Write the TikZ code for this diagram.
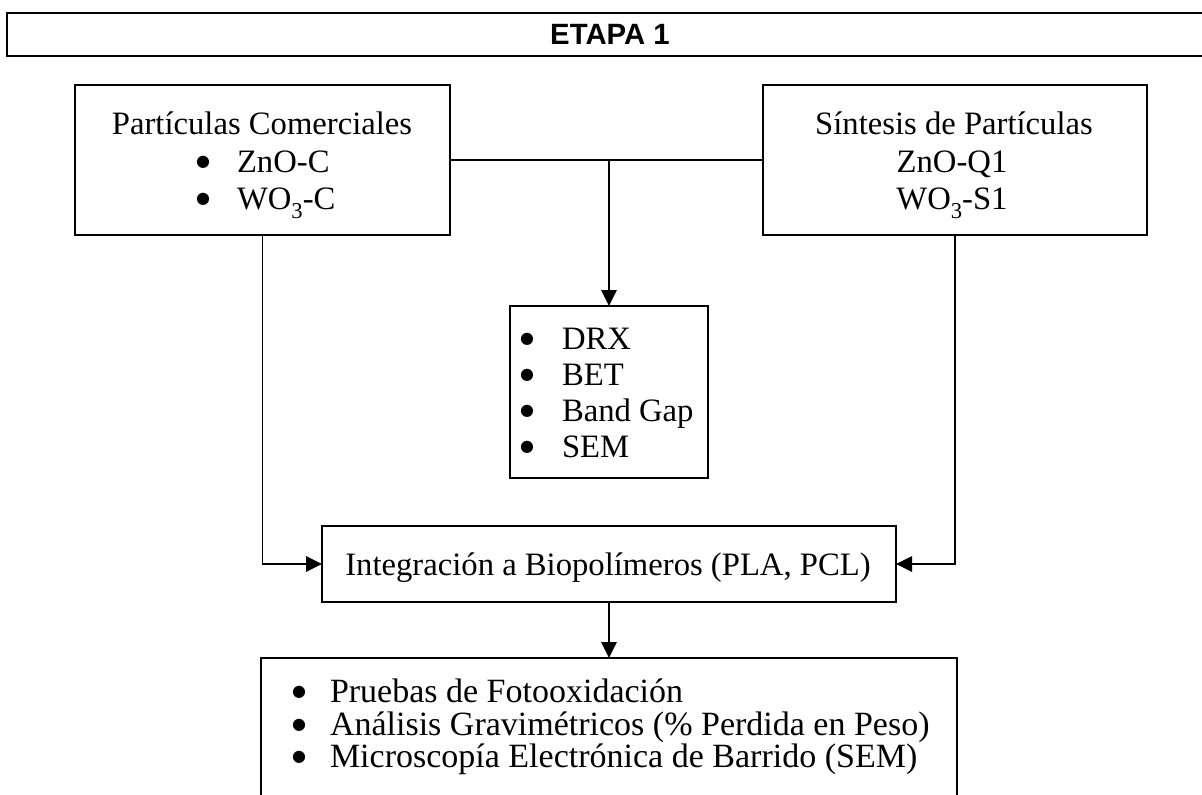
\documentclass[tikz,border=0pt]{standalone}
\usepackage{fontspec}
\setmainfont{Liberation Serif}
\newfontfamily\headfont{Liberation Sans}
\newfontfamily\symfont{DejaVu Sans}
\usetikzlibrary{arrows.meta}
\newcommand\mysub[1]{\raisebox{-0.28em}{\fontsize{17}{17}\selectfont #1}}
\newcommand\mybul{{\symfont\fontsize{12}{12}\selectfont ●}}
\begin{document}
\begin{tikzpicture}[x=0.75pt,y=-0.75pt,
  box/.style={draw,line width=2pt,inner sep=0pt,outer sep=0pt},
  conn/.style={line width=1.25pt},
  arr/.style={conn,-{Triangle[length=12pt,width=11.5pt]}},
  txt/.style={inner sep=0pt,outer sep=0pt,font=\fontsize{24.5}{29}\selectfont},
  btxt/.style={inner sep=0pt,outer sep=0pt,font=\fontsize{25.5}{29}\selectfont},
  bul/.style={inner sep=0pt,outer sep=0pt,yshift=3.9pt},
  head/.style={inner sep=0pt,outer sep=0pt,font=\headfont\bfseries\fontsize{22}{26}\selectfont}
]
\useasboundingbox (0,0) rectangle (1202,794);

% banner
\draw[line width=1.6pt] (1210,13) -- (7,13) -- (7,56) -- (1210,56);
\node[head] (etapa) at (610,34.5) {ETAPA 1};

% boxes
\node[box,minimum width=281.25pt,minimum height=112.5pt] (com) at (262.5,160) {};
\node[box,minimum width=288pt,minimum height=112.5pt] (sin) at (955,160) {};
\node[box,minimum width=148.5pt,minimum height=129pt] (car) at (609,392) {};
\node[box,minimum width=430.5pt,minimum height=57pt] (int) at (609,564) {};
\draw[line width=2pt] (261,805) -- (261,658) -- (957,658) -- (957,805);
\coordinate (res) at (609,658);

% texts: commercial
\node[txt,anchor=base] (comt) at (262,134) {Partículas Comerciales};
\node[bul,anchor=base] (comb1) at (203,172) {\mybul};
\node[txt,anchor=base west] (comi1) at (237,172) {ZnO-C};
\node[bul,anchor=base] (comb2) at (203,209) {\mybul};
\node[txt,anchor=base west] (comi2) at (237,209) {WO\mysub{3}-C};

% texts: synthesis
\node[txt,anchor=base] (sint) at (954,134) {Síntesis de Partículas};
\node[txt,anchor=base] (sin1) at (952,172) {ZnO-Q1};
\node[txt,anchor=base] (sin2) at (952,209) {WO\mysub{3}-S1};

% texts: characterization
\foreach \i/\t/\y in {1/DRX/349,2/BET/385,3/Band Gap/421,4/SEM/457}{
  \node[bul,anchor=base] (carb\i) at (527,\y) {\mybul};
  \node[txt,anchor=base west] (cari\i) at (562,\y) {\t};
}

% integration
\node[txt,anchor=base] (intt) at (608,575) {Integración a Biopolímeros (PLA, PCL)};

% results
\node[bul,anchor=base] (resb1) at (299,702) {\mybul};
\node[btxt,anchor=base west] (resi1) at (330,702) {Pruebas de Fotooxidación};
\node[bul,anchor=base] (resb2) at (299,735) {\mybul};
\node[btxt,anchor=base west] (resi2) at (330,735) {Análisis Gravimétricos (\% Perdida en Peso)};
\node[bul,anchor=base] (resb3) at (299,767) {\mybul};
\node[btxt,anchor=base west] (resi3) at (330,767) {Microscopía Electrónica de Barrido (SEM)};

% connectors
\coordinate (j) at (609,160);
\draw[conn] (com.east) -- (sin.west);
\draw[arr] (j) -- (car.north);
\draw[arr] (com.south) |- (int.west);
\draw[arr] (sin.south) |- (int.east);
\draw[arr] (int.south) -- (res);
\end{tikzpicture}
\end{document}
